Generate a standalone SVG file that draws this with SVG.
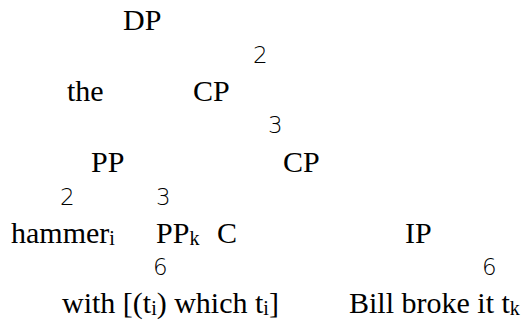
<svg xmlns="http://www.w3.org/2000/svg" width="532" height="320" viewBox="0 0 532 320">
  <style>
    .lbl { font-family: "Liberation Serif", "Times New Roman", serif; font-size: 30px; fill: #000; }
    .sub { font-size: 20px; }
    .br { font-family: "DejaVu Sans", sans-serif; font-weight: 200; font-size: 23px; fill: #000; }
  </style>
  <rect width="532" height="320" fill="#fff"/>

  <!-- branch glyphs between mother and daughter labels -->
  <g id="connectors">
    <text class="br" x="253" y="63">2</text>
    <text class="br" x="268" y="133">3</text>
    <text class="br" x="60" y="205">2</text>
    <text class="br" x="156" y="205">3</text>
    <text class="br" x="153" y="275">6</text>
    <text class="br" x="482" y="275">6</text>
  </g>

  <g id="dp"><text class="lbl" x="123" y="30">DP</text></g>
  <g id="the"><text class="lbl" x="67" y="101">the</text></g>
  <g id="cp1"><text class="lbl" x="193" y="101">CP</text></g>
  <g id="pp"><text class="lbl" x="91" y="172">PP</text></g>
  <g id="cp2"><text class="lbl" x="283" y="172">CP</text></g>
  <g id="hammer"><text class="lbl" x="11" y="243">hammer<tspan class="sub" dy="2">i</tspan></text></g>
  <g id="ppk"><text class="lbl" x="156" y="243">PP<tspan class="sub" dy="2">k</tspan></text></g>
  <g id="c"><text class="lbl" x="217" y="243">C</text></g>
  <g id="ip"><text class="lbl" x="405" y="243">IP</text></g>
  <g id="with"><text class="lbl" x="62" y="313">with [(t<tspan class="sub" dy="2">i</tspan><tspan dy="-2">) which t</tspan><tspan class="sub" dy="2">i</tspan><tspan dy="-2">]</tspan></text></g>
  <g id="bill"><text class="lbl" x="349" y="313">Bill broke it t<tspan class="sub" dy="2">k</tspan></text></g>
</svg>
